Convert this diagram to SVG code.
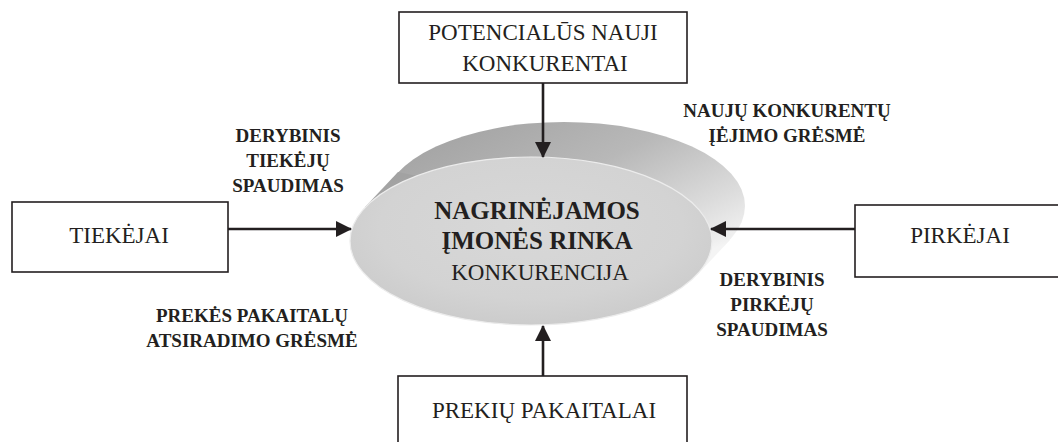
<svg xmlns="http://www.w3.org/2000/svg" width="1058" height="442" viewBox="0 0 1058 442">
<style>
  .box { fill: #ffffff; stroke: #231f20; stroke-width: 1.6; }
  .bt { font-family: "Liberation Serif", "Times New Roman", serif; font-size: 23px; fill: #231f20; text-anchor: middle; }
  .lb { font-family: "Liberation Serif", "Times New Roman", serif; font-size: 19px; font-weight: bold; fill: #231f20; text-anchor: middle; }
  .ct { font-family: "Liberation Serif", "Times New Roman", serif; fill: #231f20; text-anchor: middle; }
  .conn { stroke: #231f20; stroke-width: 2.6; fill: none; marker-end: url(#arr); }
</style>
<defs>
  <marker id="arr" markerUnits="userSpaceOnUse" markerWidth="16" markerHeight="16" refX="15" refY="8" orient="auto">
    <path d="M0,0 L16,8 L0,16 z" fill="#231f20"/>
  </marker>
  <linearGradient id="side" x1="0.15" y1="0" x2="0.95" y2="0.75">
    <stop offset="0" stop-color="#a2a2a2"/>
    <stop offset="0.45" stop-color="#b8b8b8"/>
    <stop offset="0.8" stop-color="#dcdcdc"/>
    <stop offset="1" stop-color="#f4f4f4"/>
  </linearGradient>
  <radialGradient id="face" cx="0.5" cy="0.42" r="0.6">
    <stop offset="0" stop-color="#d8d8d8"/>
    <stop offset="0.7" stop-color="#d3d3d3"/>
    <stop offset="1" stop-color="#cbcbcb"/>
  </radialGradient>
</defs>

<g id="market">
  <ellipse cx="564" cy="206" rx="181" ry="84" fill="url(#side)"/>
  <polygon points="365,207 398,172 730,240 697,275" fill="url(#side)"/>
  <ellipse cx="531" cy="241" rx="181" ry="84" fill="url(#face)" stroke="#ececec" stroke-width="1.2"/>
  <text class="ct" x="537" y="219" font-size="25" font-weight="bold">NAGRINĖJAMOS</text>
  <text class="ct" x="537" y="249" font-size="25" font-weight="bold">ĮMONĖS RINKA</text>
  <text class="ct" x="540" y="280" font-size="23">KONKURENCIJA</text>
</g>

<g id="new-entrants">
  <rect class="box" x="399" y="12" width="288" height="71"/>
  <text class="bt" x="543" y="40">POTENCIALŪS NAUJI</text>
  <text class="bt" x="545" y="71">KONKURENTAI</text>
</g>

<g id="suppliers">
  <rect class="box" x="12" y="202" width="216" height="70"/>
  <text class="bt" x="119" y="243">TIEKĖJAI</text>
</g>

<g id="buyers">
  <rect class="box" x="855" y="205" width="212" height="72"/>
  <text class="bt" x="960" y="243">PIRKĖJAI</text>
</g>

<g id="substitutes">
  <rect class="box" x="398" y="376" width="289" height="80"/>
  <text class="bt" x="544" y="418">PREKIŲ PAKAITALAI</text>
</g>

<g id="connectors">
  <line class="conn" x1="543" y1="83" x2="543" y2="157"/>
  <line class="conn" x1="228" y1="229" x2="351" y2="229"/>
  <line class="conn" x1="855" y1="229" x2="711" y2="229"/>
  <line class="conn" x1="543" y1="376" x2="543" y2="326"/>
</g>

<g id="labels">
  <text class="lb" x="288" y="142">DERYBINIS</text>
  <text class="lb" x="288" y="167">TIEKĖJŲ</text>
  <text class="lb" x="288" y="192">SPAUDIMAS</text>

  <text class="lb" x="787" y="117">NAUJŲ KONKURENTŲ</text>
  <text class="lb" x="787" y="142">ĮĖJIMO GRĖSMĖ</text>

  <text class="lb" x="772" y="286">DERYBINIS</text>
  <text class="lb" x="772" y="311">PIRKĖJŲ</text>
  <text class="lb" x="772" y="336">SPAUDIMAS</text>

  <text class="lb" x="252" y="322">PREKĖS PAKAITALŲ</text>
  <text class="lb" x="252" y="347">ATSIRADIMO GRĖSMĖ</text>
</g>
</svg>
